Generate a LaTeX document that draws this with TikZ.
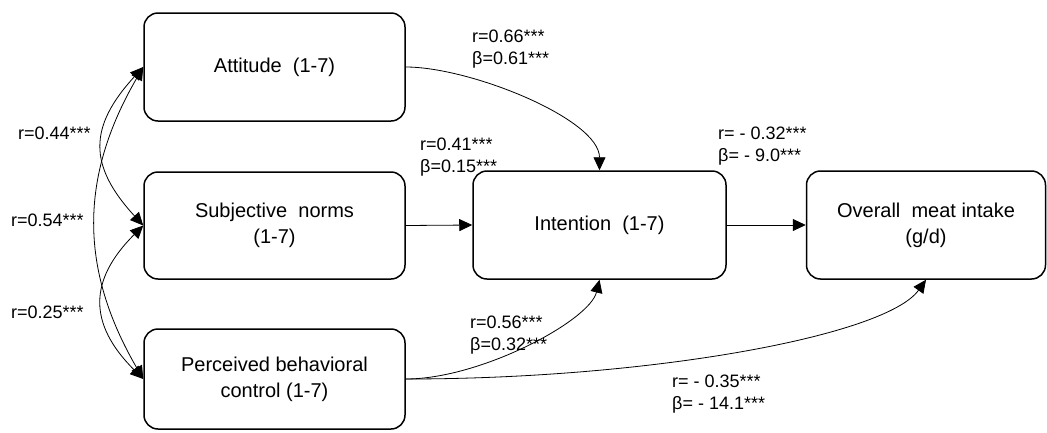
\documentclass[tikz,border=0pt]{standalone}
\usepackage{fontspec}
\setmainfont{Liberation Sans}
\usetikzlibrary{arrows.meta}

\begin{document}
\begin{tikzpicture}[x=1pt,y=-1pt]
	\tikzstyle{every node}+=[inner sep=0pt]
	\tikzstyle{box}=[draw, line width=1.5pt, rounded corners=14pt, align=center, font=\fontsize{20}{26}\selectfont]
	\tikzstyle{lbl}=[anchor=west, align=left, font=\fontsize{18}{22}\selectfont]
	\tikzstyle{link}=[line width=0.8pt, -{Triangle[length=13pt,width=12pt]}]
	\tikzstyle{corr}=[line width=0.8pt, {Triangle[length=13pt,width=12pt]}-{Triangle[length=13pt,width=12pt]}]
	\useasboundingbox (0,0) rectangle (1047,432);
	\node[box, minimum width=261pt, minimum height=108pt] (att) at (274.5,67) {Attitude\ \ (1-7)};
	\node[box, minimum width=261pt, minimum height=107pt] (sub) at (274.5,225.5) {Subjective\ \ norms\\(1-7)};
	\node[box, minimum width=261pt, minimum height=100pt] (per) at (274.5,379) {Perceived behavioral\\control (1-7)};
	\node[box, minimum width=253pt, minimum height=108pt] (int) at (599.5,225) {Intention\ \ (1-7)};
	\node[box, minimum width=239pt, minimum height=108pt] (ov) at (926,225) {Overall\ \ meat intake\\(g/d)};
	\node[lbl] (l66) at (472,49) {r=0.66***\\β=0.61***};
	\node[lbl] (l41) at (420,157) {r=0.41***\\β=0.15***};
	\node[lbl] (l32) at (718,146) {r= - 0.32***\\β= - 9.0***};
	\node[lbl] (l56) at (470,335) {r=0.56***\\β=0.32***};
	\node[lbl] (l35) at (672,394) {r= - 0.35***\\β= - 14.1***};
	\node[lbl] (l44) at (18,133) {r=0.44***};
	\node[lbl] (l54) at (11,220) {r=0.54***};
	\node[lbl] (l25) at (11,312) {r=0.25***};
	\draw[link] (att.east) .. controls +(65,0) and +(0,-51) .. (int.north);
	\draw[link] (sub.east) -- (int.west);
	\draw[link] (int.east) -- (ov.west);
	\draw[link] (per.east) .. controls +(75,0) and +(-10,41) .. (int.south);
	\draw[link] (per.east) .. controls +(245,0) and +(-40,56) .. (ov.south);
	\draw[corr] (att.west) .. controls +(-55,60) and +(-55,-60) .. (sub.west);
	\draw[corr] (att.west) .. controls +(-64,110) and +(-64,-110) .. (per.west);
	\draw[corr] (sub.west) .. controls +(-55,55) and +(-55,-55) .. (per.west);
\end{tikzpicture}
\end{document}
